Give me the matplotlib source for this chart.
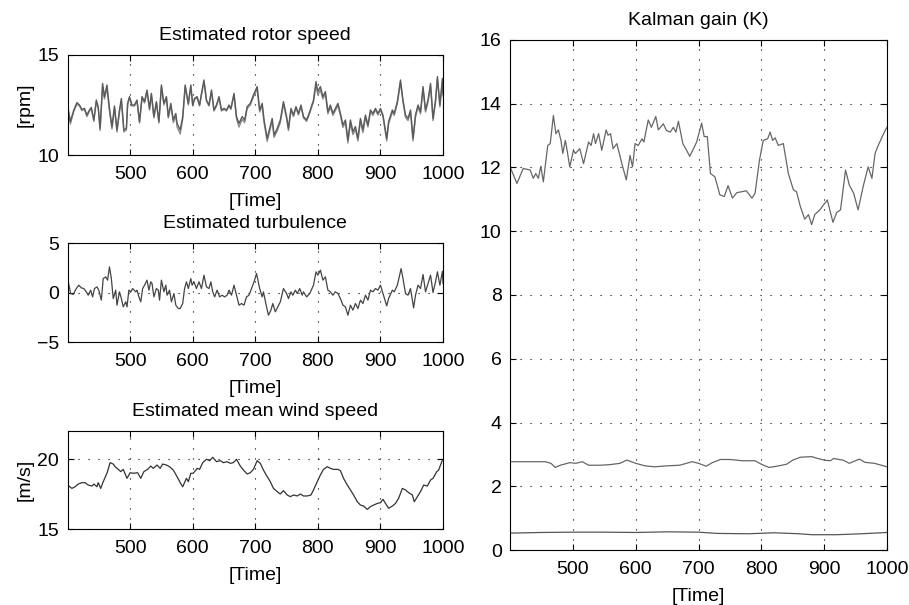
import matplotlib
matplotlib.use("Agg")
import matplotlib.pyplot as plt

plt.rcParams['font.family'] = ['Liberation Sans', 'DejaVu Sans']
plt.rcParams['font.size'] = 14

# estimated rotor speed [rpm], two traces
rotor_t = [400, 404.5, 410, 415, 419, 423, 427, 431, 435, 438,
           442, 446, 449, 452, 456, 459, 463, 467, 471, 475,
           479, 483, 486, 490, 494, 496, 499, 503, 507, 511,
           515, 519, 523, 527, 531, 534, 538, 542, 546, 550,
           554, 558, 561, 565, 569, 573, 575, 580, 584, 588,
           593, 597, 600, 603, 607, 611, 614, 618, 622, 626,
           630, 634, 638, 642, 646, 650, 654, 658, 661, 666,
           670, 674, 679, 683, 687, 692, 697, 703, 707, 711,
           714, 719, 723, 727, 730, 735, 740, 745, 750, 753,
           757, 761, 765, 769, 773, 777, 782, 787, 793, 797,
           800, 804, 808, 812, 816, 820, 824, 828, 832, 836,
           840, 844, 848, 852, 856, 860, 864, 868, 872, 876,
           880, 884, 888, 892, 896, 900, 904, 910, 913, 919,
           922, 927, 932, 936, 940, 944, 948, 952, 956, 960,
           964, 968, 972, 976, 980, 984, 988, 991, 995, 999,
           1000]
rotor_a = [12.50, 11.67, 12.25, 12.62, 12.50, 12.28, 12.33, 12.00, 12.25, 12.38,
           11.75, 12.75, 12.42, 11.33, 13.58, 12.92, 13.50, 12.33, 11.42, 12.45,
           11.25, 12.25, 12.83, 11.25, 11.33, 12.58, 12.92, 12.50, 12.50, 12.75,
           11.67, 12.92, 12.67, 13.25, 12.33, 13.08, 11.92, 12.67, 11.67, 13.50,
           12.58, 12.92, 11.92, 12.58, 11.75, 12.08, 11.58, 11.25, 11.92, 13.50,
           12.58, 13.50, 12.50, 12.83, 12.92, 12.50, 13.08, 13.75, 12.75, 12.50,
           13.25, 12.25, 12.50, 12.92, 12.25, 12.33, 12.25, 12.50, 12.33, 13.08,
           11.92, 11.58, 11.92, 11.75, 12.42, 12.58, 13.00, 13.42, 12.25, 12.58,
           11.75, 10.83, 11.33, 11.83, 11.00, 11.33, 11.75, 12.67, 11.92, 11.33,
           12.33, 12.00, 12.42, 12.08, 12.50, 11.92, 11.75, 12.17, 12.75, 13.67,
           13.17, 13.42, 12.92, 13.17, 12.17, 12.50, 12.08, 12.33, 12.58, 12.08,
           11.50, 11.75, 10.75, 11.75, 11.17, 11.42, 10.83, 11.83, 11.25, 12.00,
           11.50, 12.25, 12.08, 12.33, 12.08, 12.33, 12.00, 10.83, 11.67, 12.25,
           12.08, 12.67, 13.75, 12.75, 12.00, 11.83, 12.25, 10.83, 12.00, 12.50,
           12.17, 13.42, 12.25, 12.75, 13.58, 11.83, 12.75, 13.92, 12.50, 13.83,
           13.08]
rotor_b = [12.42, 11.55, 12.18, 12.55, 12.45, 12.22, 12.28, 11.92, 12.20, 12.30,
           11.68, 12.65, 12.35, 11.22, 13.40, 12.80, 13.35, 12.20, 11.30, 12.35,
           11.15, 12.15, 12.72, 11.15, 11.25, 12.50, 12.85, 12.45, 12.45, 12.68,
           11.60, 12.85, 12.60, 13.15, 12.25, 13.00, 11.85, 12.60, 11.60, 13.40,
           12.50, 12.85, 11.85, 12.48, 11.62, 11.95, 11.40, 11.05, 11.78, 13.40,
           12.50, 13.42, 12.45, 12.78, 12.85, 12.45, 13.00, 13.65, 12.70, 12.45,
           13.18, 12.20, 12.45, 12.85, 12.20, 12.28, 12.20, 12.45, 12.28, 13.00,
           11.80, 11.40, 11.78, 11.62, 12.32, 12.50, 12.90, 13.30, 12.15, 12.48,
           11.62, 10.68, 11.18, 11.70, 10.88, 11.20, 11.62, 12.55, 11.82, 11.22,
           12.25, 11.92, 12.35, 12.00, 12.42, 11.85, 11.68, 12.10, 12.65, 13.50,
           13.00, 13.25, 12.80, 13.05, 12.05, 12.40, 11.98, 12.22, 12.48, 11.98,
           11.38, 11.62, 10.60, 11.60, 11.02, 11.28, 10.70, 11.70, 11.12, 11.88,
           11.40, 12.15, 11.98, 12.25, 12.00, 12.25, 11.92, 10.70, 11.55, 12.15,
           11.98, 12.58, 13.62, 12.65, 11.88, 11.72, 12.15, 10.70, 11.90, 12.40,
           12.05, 13.30, 12.15, 12.65, 13.45, 11.72, 12.65, 13.80, 12.40, 13.70,
           12.95]

# estimated turbulence
turb_t = [400, 405, 409, 414, 418, 422, 426, 430, 433, 437,
          440, 443, 447, 450, 454, 457, 461, 464, 467, 470,
          473, 477, 479, 483, 486, 489, 493, 495, 498, 501,
          504, 509, 511, 514, 517, 520, 523, 527, 530, 533,
          535, 538, 542, 545, 547, 550, 554, 557, 559, 563,
          566, 570, 573, 577, 580, 584, 587, 590, 593, 597,
          599, 602, 606, 610, 614, 618, 622, 626, 629, 632,
          635, 639, 643, 647, 651, 655, 658, 662, 666, 670,
          674, 678, 682, 686, 690, 694, 698, 702, 707, 711,
          713, 718, 721, 725, 728, 732, 736, 740, 745, 750,
          753, 757, 760, 764, 767, 771, 775, 777, 782, 787,
          793, 797, 800, 804, 808, 812, 816, 820, 824, 828,
          832, 836, 840, 844, 848, 852, 856, 860, 864, 868,
          872, 876, 880, 884, 888, 892, 896, 900, 904, 910,
          913, 919, 922, 927, 933, 936, 940, 944, 948, 953,
          956, 960, 964, 968, 972, 976, 980, 984, 988, 991,
          995, 999, 1000]
turb = [1.41, -0.10, -0.20, 0.40, 0.74, 0.47, 0.40, 0.07, -0.27, 0.24,
        -0.44, 0.40, 0.57, 0.24, -0.77, 1.41, 1.58, 1.25, 2.59, 1.41,
        -0.61, 0.24, -1.28, 0.07, -0.61, -1.45, -0.94, -1.45, 0.24, 0.07,
        0.40, 0.07, 0.24, -0.44, -0.94, 0.40, 0.74, 1.25, 0.24, 1.08,
        0.91, -0.44, 0.40, 0.24, -0.77, 1.25, 0.07, 0.74, -0.27, 0.24,
        -0.94, -0.10, -1.28, -1.62, -1.62, -1.11, 0.40, 1.08, 0.40, 1.41,
        0.74, 1.08, 0.40, 1.08, 0.40, 1.75, 0.57, 0.40, 1.08, 0.07,
        -0.44, 0.24, -0.44, -0.27, -0.44, -0.27, 0.24, -0.27, 0.74, -0.27,
        -1.28, -1.11, -1.28, -0.44, -0.27, 0.40, 1.08, 1.92, 0.40, -0.44,
        0.07, -1.45, -2.29, -1.78, -1.11, -1.95, -1.45, -0.94, 0.40, -0.10,
        -0.61, 0.07, -0.27, 0.24, -0.10, 0.40, -0.27, 0.07, -0.44, -0.10,
        0.74, 2.09, 1.75, 2.26, 1.25, 1.58, 0.24, 0.07, -0.27, 0.07,
        -0.10, -0.61, -1.28, -1.45, -2.29, -1.28, -1.78, -1.11, -1.62, -0.77,
        -1.11, -0.27, -0.77, 0.24, 0.07, 0.40, 0.24, 0.74, -0.10, -1.35,
        -0.61, 0.24, 0.07, 0.74, 2.42, 1.41, -0.10, -0.27, 0.40, -1.55,
        -0.27, 0.74, 0.40, 1.82, 0.07, 0.91, 1.75, 0.00, 1.08, 2.09,
        0.74, 2.15, 0.91]

# estimated mean wind speed [m/s]
wind_t = [400, 407, 412, 417, 423, 428, 433, 439, 442, 447,
          449, 453, 457, 463, 468, 473, 476, 481, 485, 489,
          495, 500, 505, 512, 517, 522, 528, 533, 537, 543,
          548, 552, 558, 563, 569, 575, 580, 584, 590, 593,
          597, 601, 607, 611, 616, 622, 627, 632, 638, 644,
          649, 655, 660, 665, 670, 676, 681, 687, 692, 697,
          703, 708, 713, 719, 724, 729, 735, 740, 745, 751,
          756, 761, 767, 772, 777, 783, 789, 793, 799, 804,
          809, 815, 820, 825, 832, 836, 841, 847, 852, 857,
          863, 868, 873, 879, 884, 889, 895, 900, 904, 908,
          913, 919, 924, 929, 935, 940, 945, 951, 954, 959,
          964, 969, 975, 980, 984, 990, 993, 999, 1000]
wind = [18.14, 17.90, 18.02, 18.21, 18.31, 18.31, 18.14, 18.07, 18.21, 18.02,
        18.31, 17.90, 18.38, 18.98, 19.74, 19.64, 19.45, 19.26, 19.10, 19.26,
        18.62, 19.02, 18.98, 19.02, 18.62, 19.10, 19.26, 19.50, 19.33, 19.57,
        19.33, 19.64, 19.57, 19.45, 19.21, 18.74, 18.31, 18.02, 18.62, 18.38,
        18.98, 18.98, 19.33, 19.26, 19.74, 19.98, 19.88, 20.12, 19.81, 19.88,
        19.74, 19.81, 19.69, 19.74, 19.98, 19.50, 19.21, 18.93, 19.02, 19.26,
        19.88, 19.69, 19.21, 18.74, 18.38, 17.90, 17.67, 17.50, 17.74, 17.43,
        17.31, 17.43, 17.36, 17.50, 17.36, 17.36, 17.43, 17.79, 18.38, 18.86,
        19.26, 19.45, 19.33, 19.26, 19.26, 19.17, 18.62, 18.14, 17.79, 17.43,
        16.95, 16.71, 16.64, 16.40, 16.60, 16.71, 16.83, 16.88, 17.12, 16.83,
        16.48, 16.64, 16.83, 17.19, 17.90, 17.79, 17.60, 17.43, 16.95, 17.31,
        17.67, 18.14, 18.07, 18.50, 18.62, 19.10, 19.21, 19.93, 19.98]

# Kalman gain components
k1_t = [400, 411, 421, 432, 437, 441, 445, 449, 453, 460,
        464, 469, 473, 477, 481, 484, 488, 490, 495, 501,
        504, 511, 517, 525, 529, 533, 536, 541, 546, 553,
        556, 560, 564, 570, 578, 585, 591, 595, 599, 604,
        610, 613, 620, 625, 632, 636, 644, 649, 655, 660,
        664, 668, 675, 681, 686, 692, 697, 705, 709, 714,
        719, 726, 734, 741, 747, 754, 761, 769, 776, 785,
        790, 797, 803, 810, 814, 818, 822, 827, 835, 843,
        851, 856, 862, 869, 875, 880, 885, 893, 901, 905,
        909, 914, 920, 926, 934, 940, 947, 954, 962, 970,
        976, 981, 986, 992, 997, 1000]
k1 = [12.02, 11.50, 11.97, 11.92, 11.66, 11.81, 11.66, 12.04, 11.55, 12.69,
      12.75, 13.63, 13.06, 13.18, 12.85, 12.44, 12.85, 12.64, 12.02, 12.54,
      12.44, 12.59, 12.12, 12.80, 12.69, 13.06, 12.75, 13.06, 12.54, 13.18,
      13.01, 13.06, 12.59, 12.75, 12.12, 11.61, 12.38, 12.02, 12.75, 12.69,
      12.90, 12.80, 13.49, 13.26, 13.60, 13.18, 13.37, 13.16, 13.11, 13.26,
      13.11, 13.45, 12.75, 12.54, 12.35, 12.59, 12.80, 13.39, 12.97, 12.97,
      11.81, 11.71, 11.14, 11.09, 11.43, 11.04, 11.21, 11.24, 11.27, 11.04,
      11.19, 12.23, 12.85, 12.90, 13.11, 12.85, 12.93, 12.69, 12.75, 11.81,
      11.30, 11.24, 10.78, 10.38, 10.52, 10.21, 10.52, 10.67, 10.88, 10.98,
      10.67, 10.28, 10.59, 10.67, 11.92, 11.45, 11.19, 10.67, 11.40, 12.02,
      11.66, 12.44, 12.69, 12.95, 13.16, 13.26]

k2_t = [400, 440, 456, 465, 472, 480, 495, 505, 515, 525,
        545, 560, 575, 586, 600, 615, 630, 650, 670, 690,
        700, 712, 722, 735, 750, 770, 790, 800, 812, 825,
        840, 850, 862, 880, 890, 900, 910, 915, 930, 940,
        956, 965, 980, 1000]
k2 = [2.77, 2.77, 2.77, 2.72, 2.59, 2.66, 2.74, 2.72, 2.77, 2.66,
      2.66, 2.68, 2.72, 2.82, 2.72, 2.64, 2.61, 2.64, 2.66, 2.77,
      2.72, 2.63, 2.74, 2.84, 2.84, 2.80, 2.80, 2.69, 2.59, 2.63,
      2.69, 2.82, 2.91, 2.93, 2.87, 2.82, 2.80, 2.87, 2.82, 2.72,
      2.85, 2.75, 2.72, 2.61]

k3_t = [400, 450, 500, 550, 600, 650, 700, 730, 780, 820, 860, 880, 920, 960, 1000]
k3 = [0.53, 0.55, 0.56, 0.56, 0.55, 0.57, 0.56, 0.52, 0.51, 0.54, 0.51, 0.48, 0.48, 0.51, 0.55]

xticks = [500, 600, 700, 800, 900, 1000]
grid_style = dict(color='k', linestyle=(0, (1, 8)), linewidth=0.8)


def style(ax, yticks, ylim):
    ax.set_xlim(400, 1000)
    ax.set_ylim(*ylim)
    ax.set_xticks(xticks)
    ax.set_yticks(yticks)
    ax.tick_params(direction='in', top=True, right=True, length=4, labelsize=14)
    ax.tick_params(axis='x', pad=8)
    ax.tick_params(axis='y', pad=6)
    ax.grid(True, **grid_style)
    for s in ax.spines.values():
        s.set_linewidth(0.8)
    ax.set_xlabel('[Time]', labelpad=7)


fig = plt.figure(figsize=(9.09, 6.05), dpi=100)
ax1 = fig.add_axes([0.0743, 0.7438, 0.4131, 0.1653])
ax2 = fig.add_axes([0.0743, 0.4347, 0.4131, 0.1636])
ax3 = fig.add_axes([0.0743, 0.1256, 0.4131, 0.1620])
ax4 = fig.add_axes([0.5611, 0.0909, 0.4147, 0.8430])

ax1.plot(rotor_t, rotor_b, color='#8a8a8a', lw=1.0)
ax1.plot(rotor_t, rotor_a, color='#5a5a5a', lw=1.0)
style(ax1, [10, 15], (10, 15))
ax1.set_ylabel('[rpm]', labelpad=3)
ax1.set_title('Estimated rotor speed', pad=11, fontsize=14)

ax2.plot(turb_t, turb, color='#444444', lw=0.9)
style(ax2, [-5, 0, 5], (-5, 5))
ax2.set_title('Estimated turbulence', pad=11, fontsize=14)

ax3.plot(wind_t, wind, color='#333333', lw=0.9)
style(ax3, [15, 20], (15, 22))
ax3.set_ylabel('[m/s]', labelpad=3)
ax3.set_title('Estimated mean wind speed', pad=11, fontsize=14)

ax4.plot(k1_t, k1, color='#666666', lw=0.9)
ax4.plot(k2_t, k2, color='#666666', lw=0.9)
ax4.plot(k3_t, k3, color='#555555', lw=0.9)
style(ax4, list(range(0, 17, 2)), (0, 16))
ax4.set_title('Kalman gain (K)', pad=11, fontsize=14)

fig.savefig('out.png', dpi=100)
